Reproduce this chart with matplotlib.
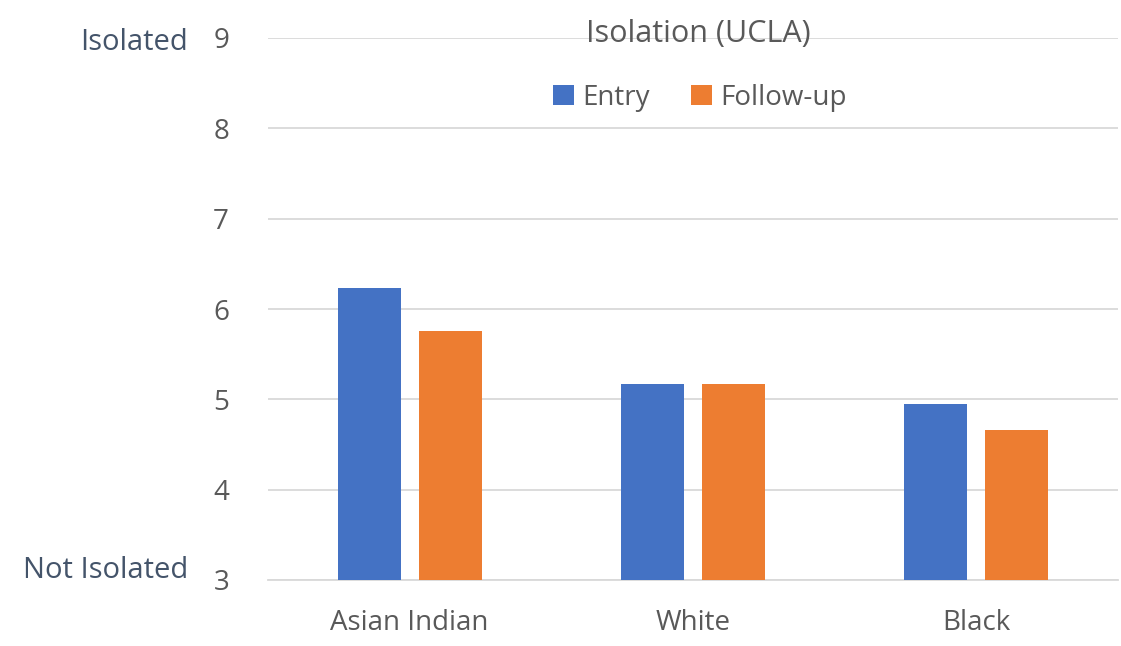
import matplotlib
matplotlib.use("Agg")
import matplotlib.pyplot as plt
import numpy as np

categories = ["Asian Indian", "White", "Black"]
entry = [6.23, 5.17, 4.95]
follow_up = [5.76, 5.17, 4.66]
series_names = ["Entry", "Follow-up"]
yticks = [3, 4, 5, 6, 7, 8, 9]

plt.rcParams['font.family'] = ['Open Sans', 'DejaVu Sans']
grey = "#595959"

fig = plt.figure(figsize=(11.21, 6.46), dpi=100)
ax = fig.add_axes([268 / 1121, 1 - 580 / 646, 850 / 1121, 542 / 646])

x = np.arange(len(categories))
w = 0.222
off = 0.143
ax.bar(x - off, entry, w, color="#4472C4", label=series_names[0], zorder=3)
ax.bar(x + off, follow_up, w, color="#ED7D31", label=series_names[1], zorder=3)

ax.set_xlim(-0.5, 2.5)
ax.set_ylim(3, 9)
ax.set_yticks(yticks)
ax.set_xticks(x)
ax.set_xticklabels(categories)
ax.yaxis.grid(True, color="#D9D9D9", linewidth=1.3, zorder=0)
ax.set_axisbelow(True)
for s in ["top", "right", "left"]:
    ax.spines[s].set_visible(False)
ax.spines["bottom"].set_color("#D9D9D9")
ax.spines["bottom"].set_linewidth(1.3)
ax.tick_params(axis="both", length=0, labelsize=20, colors=grey)
ax.tick_params(axis="y", pad=28)
ax.tick_params(axis="x", pad=21)

fig.text(698 / 1121, 1 - 34 / 646, "Isolation (UCLA)", ha="center", va="center",
         fontsize=22, color=grey)
leg = ax.legend(loc="center", bbox_to_anchor=(700 / 1121, 1 - 98 / 646),
                bbox_transform=fig.transFigure, ncol=2, frameon=False,
                fontsize=20, handlelength=0.75, handleheight=0.75,
                handletextpad=0.3, columnspacing=1.5)
for t in leg.get_texts():
    t.set_color(grey)

fig.text(188 / 1121, 1 - 43 / 646, "Isolated", ha="right", va="center",
         fontsize=21, color="#44546A")
fig.text(188 / 1121, 1 - 571 / 646, "Not Isolated", ha="right", va="center",
         fontsize=21, color="#44546A")

fig.savefig("out.png", dpi=100)
